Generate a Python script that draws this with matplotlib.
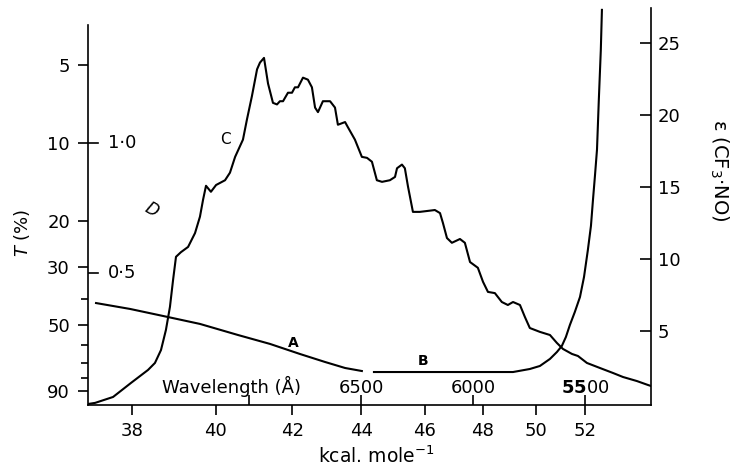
import numpy as np
import matplotlib.pyplot as plt
from matplotlib.ticker import NullFormatter
from matplotlib.transforms import blended_transform_factory

HC = 285910.0   # kcal mole^-1 * Angstrom

# curve C : transmission T (%) against wavelength (Angstrom)
wl_c = [7719, 7687, 7607, 7527, 7451, 7420, 7393, 7371, 7353, 7339,
        7326, 7304, 7272, 7241, 7219, 7205, 7192, 7170, 7147, 7107,
        7085, 7062, 7027, 7009, 6987, 6964, 6951, 6933, 6915, 6893,
        6875, 6862, 6848, 6826, 6808, 6795, 6781, 6759, 6737, 6719,
        6705, 6692, 6670, 6638, 6616, 6603, 6571, 6558, 6527, 6496,
        6473, 6451, 6429, 6406, 6371, 6348, 6339, 6317, 6304, 6290,
        6268, 6237, 6192, 6170, 6147, 6134, 6116, 6094, 6058, 6036,
        6013, 5978, 5955, 5933, 5902, 5871, 5844, 5821, 5790, 5768,
        5746, 5701, 5656, 5625, 5598, 5558, 5531, 5491, 5433, 5375,
        5330, 5268, 5219, 5205]
t_c = [101.0, 100.0, 94.9, 83.8, 74.7, 70.2, 62.6, 52.4, 42.7, 33.6,
       27.4, 26.3, 25.1, 22.2, 19.2, 16.5, 14.6, 15.4, 14.5, 13.9,
       13.0, 11.3, 9.7, 8.1, 6.6, 5.2, 4.9, 4.7, 5.9, 7.0,
       7.1, 6.9, 6.9, 6.4, 6.4, 6.1, 6.1, 5.6, 5.7, 6.1,
       7.3, 7.6, 6.9, 6.9, 7.3, 8.5, 8.3, 8.7, 9.7, 11.3,
       11.4, 11.8, 13.9, 14.1, 13.9, 13.5, 12.5, 12.1, 12.5, 14.7,
       18.4, 18.4, 18.2, 18.1, 18.6, 20.3, 23.2, 24.2, 23.4, 24.2,
       28.7, 30.2, 34.2, 37.4, 37.8, 40.9, 42.0, 40.9, 42.0, 46.7,
       51.5, 53.3, 54.8, 58.8, 62.0, 64.8, 66.0, 70.2, 73.4, 76.7,
       79.5, 82.4, 85.3, 86.1]

# curves A and B : extinction coefficient of CF3.NO
wl_a = [7683, 7531, 7362, 7219, 7049, 6906, 6772, 6661, 6571, 6496]
eps_a = [6.94, 6.53, 5.97, 5.49, 4.72, 4.10, 3.40, 2.85, 2.43, 2.22]
wl_b = [6442, 6237, 6013, 5821, 5746, 5701, 5656, 5625, 5603, 5585,
        5567, 5545, 5522, 5504, 5487, 5473, 5464, 5455, 5446, 5442,
        5438, 5429, 5424]
eps_b = [2.15, 2.15, 2.15, 2.15, 2.36, 2.57, 3.06, 3.54, 3.96, 4.58,
         5.42, 6.32, 7.36, 8.75, 10.6, 12.3, 14.1, 15.8, 17.6, 19.3,
         21.0, 24.5, 27.3]

kcal_ticks = [38, 40, 42, 44, 46, 48, 50, 52]
wl_ticks = [7000, 6500, 6000, 5500]
wl_labels = ["", "6500", "6000", r"$\mathbf{55}$00"]
t_ticks = [5, 10, 20, 30, 50, 90]
t_minor = [40, 60, 70, 80]
od_ticks = [1.0, 0.5]
od_labels = ["1·0", "0·5"]
eps_ticks = [5, 10, 15, 20, 25]

plt.rcParams["font.family"] = "DejaVu Sans"
plt.rcParams["mathtext.fontset"] = "dejavusans"

fig = plt.figure(figsize=(7.32, 4.70), dpi=100)
ax = fig.add_axes([0.1202, 0.1383, 0.7691, 0.8447])

ax.set_yscale("log")
ax.plot(wl_c, t_c, color="black", lw=1.5)

ax.set_yticks(t_ticks)
ax.set_yticklabels([str(t) for t in t_ticks])
ax.set_yticks(t_minor, minor=True)
ax.yaxis.set_minor_formatter(NullFormatter())
ax.tick_params(axis="y", which="major", direction="out", length=7, width=1.2, pad=6, labelsize=13)
ax.tick_params(axis="y", which="minor", direction="out", length=5, width=1.2)

ax.set_xticks(HC/np.array(kcal_ticks))
ax.set_xticklabels([str(k) for k in kcal_ticks])
ax.set_xticks(wl_ticks, minor=True)
ax.xaxis.set_minor_formatter(NullFormatter())
ax.tick_params(axis="x", which="major", direction="out", length=7, width=1.2, pad=5, labelsize=13)
ax.tick_params(axis="x", which="minor", direction="in", length=7, width=1.2)

ax.set_xlim(7719, 5205)
ax.set_ylim(101.9, 3.02)

ax.spines["top"].set_visible(False)
ax.spines["right"].set_visible(False)
ax.spines["left"].set_bounds(101.9, 3.51)
for s in ("left", "bottom"):
	ax.spines[s].set_linewidth(1.2)

# optical density marks on the transmission axis
yblend = blended_transform_factory(ax.transAxes, ax.transData)
for od, lab in zip(od_ticks, od_labels):
	T = 10**(2.0 - od)
	ax.axhline(T, xmin=0, xmax=0.017, color="black", lw=1.2)
	ax.text(0.06, T, lab, transform=yblend, ha="center", va="center", fontsize=13)

# wavelength scale written inside the plot
xblend = blended_transform_factory(ax.transData, ax.transAxes)
for wl, lab in zip(wl_ticks, wl_labels):
	ax.text(wl, 0.030, lab, transform=xblend, ha="center", va="baseline", fontsize=13)
ax.text(7388, 0.030, "Wavelength (Å)", transform=xblend, ha="left", va="baseline", fontsize=13)

ax.text(7103, 9.7, "C", ha="center", va="center", fontsize=11)
ax.text(7437, 18.1, "D", ha="center", va="center", fontsize=12, style="italic", rotation=-30)

ax.set_ylabel("$T$ (%)", fontsize=13, va="center")
ax.yaxis.set_label_coords(-0.117, 0.433)
ax.set_xlabel("kcal. mole$^{-1}$", fontsize=13.5, va="center")
ax.xaxis.set_label_coords(0.512, -0.128)

ax2 = ax.twinx()
ax2.set_ylim(-0.14, 27.43)
ax2.plot(wl_a, eps_a, color="black", lw=1.5)
ax2.plot(wl_b, eps_b, color="black", lw=1.5)
ax2.set_yticks(eps_ticks)
ax2.tick_params(axis="y", direction="in", length=8, width=1.2, pad=5, labelsize=13)
for s in ("top", "left", "bottom"):
	ax2.spines[s].set_visible(False)
ax2.spines["right"].set_linewidth(1.2)
ax2.text(6804, 4.17, "A", ha="center", va="center", fontsize=10, weight="bold")
ax2.text(6223, 2.92, "B", ha="center", va="center", fontsize=10, weight="bold")

ax2.set_ylabel("ε (CF$_3$·NO)", fontsize=14, rotation=270, va="center")
ax2.yaxis.set_label_coords(1.121, 0.592)

fig.savefig("out.png", dpi=100)
